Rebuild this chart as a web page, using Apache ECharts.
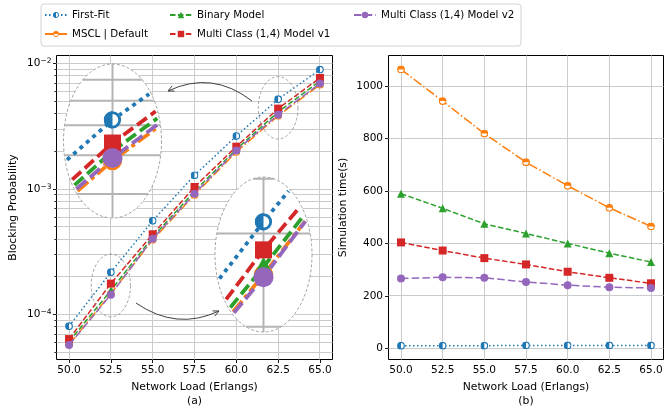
<!DOCTYPE html>
<html><head><meta charset="utf-8">
<script src="https://cdn.jsdelivr.net/npm/echarts@6/dist/echarts.min.js"></script>
<style>html,body{margin:0;padding:0;background:#fff}#c{width:665px;height:411px}</style>
</head><body><div id="c"></div>
<script>
// ---------------- data ----------------
const loads = [50, 52.5, 55, 57.5, 60, 62.5, 65];
const xTickLabels = ['50.0', '52.5', '55.0', '57.5', '60.0', '62.5', '65.0'];
const seriesNames = ['First-Fit', 'MSCL | Default', 'Binary Model', 'Multi Class (1,4) Model v1', 'Multi Class (1,4) Model v2'];
const bpFirstFit = [8.1e-5, 2.18e-4, 5.6e-4, 1.29e-3, 2.65e-3, 5.2e-3, 8.96e-3];
const bpMscl     = [5.8e-5, 1.47e-4, 3.95e-4, 9.0e-4, 1.98e-3, 3.84e-3, 6.8e-3];
const bpBinary   = [6.1e-5, 1.56e-4, 4.15e-4, 9.6e-4, 2.08e-3, 4.12e-3, 7.25e-3];
const bpV1       = [6.4e-5, 1.77e-4, 4.37e-4, 1.04e-3, 2.18e-3, 4.38e-3, 7.69e-3];
const bpV2       = [5.73e-5, 1.445e-4, 4.03e-4, 9.18e-4, 2.03e-3, 3.92e-3, 6.93e-3];
const timeFirstFit = [10, 10, 10, 11, 11, 11, 11];
const timeMscl     = [1064, 943, 819, 710, 620, 536, 465];
const timeBinary   = [590, 534, 475, 438, 400, 363, 329];
const timeV1       = [404, 373, 344, 320, 292, 269, 248];
const timeV2       = [266, 271, 269, 253, 241, 233, 230];
const bpMajorTicks = [1e-4, 1e-3, 1e-2];
const bpMinorTicks = [5e-5, 6e-5, 7e-5, 8e-5, 9e-5,
  2e-4, 3e-4, 4e-4, 5e-4, 6e-4, 7e-4, 8e-4, 9e-4,
  2e-3, 3e-3, 4e-3, 5e-3, 6e-3, 7e-3, 8e-3, 9e-3];
const timeTicks = [0, 200, 400, 600, 800, 1000];

const bpData = [bpFirstFit, bpMscl, bpBinary, bpV1, bpV2];
const timeData = [timeFirstFit, timeMscl, timeBinary, timeV1, timeV2];

// ---------------- styles / layout ----------------
const FONT = 'DejaVu Sans';
const TXT = '#000';
const GRID_COLOR = '#cbcbcb';
const COLORS = ['#1f77b4', '#ff7f0e', '#2ca02c', '#d62728', '#9467bd'];
const DASH = [[1.5, 2.5], [9.6, 2.4, 1.5, 2.4], [5.5, 2.4], [5.5, 2.4], [7.5, 3.2]];
const INSET_DASH = [[4, 4.5], [14, 4, 4, 4], [12, 5], [12, 5], [13, 5]];
const X_MIN = 49.25, X_MAX = 65.75;
const BP_MIN = 4.4e-5, BP_MAX = 0.0116;
const T_MIN = -42.7, T_MAX = 1117;
const GL = {left: 56.5, top: 55.5, width: 276, height: 304};
const GR = {left: 388.5, top: 55.5, width: 275, height: 304};

function halfSvg(color, half) {
  const d = half === 'left' ? 'M10 1.5 A8.5 8.5 0 0 0 10 18.5 Z' : 'M1.5 10 A8.5 8.5 0 0 1 18.5 10 Z';
  const svg = '<svg xmlns="http://www.w3.org/2000/svg" width="20" height="20" viewBox="0 0 20 20">' +
    '<circle cx="10" cy="10" r="8.5" fill="#ffffff"/><path d="' + d + '" fill="' + color + '"/>' +
    '<circle cx="10" cy="10" r="8.2" fill="none" stroke="' + color + '" stroke-width="3"/></svg>';
  return 'image://data:image/svg+xml;charset=utf-8,' + encodeURIComponent(svg);
}
const SYMBOLS = [halfSvg(COLORS[0], 'left'), halfSvg(COLORS[1], 'top'), 'triangle', 'rect', 'circle'];
const SYM_SIZE = [8, 8, 8, 8, 8];

// inset configuration (magnified views)
const pxPerUnit = GL.width / (X_MAX - X_MIN);
const pxPerDec = GL.height / (Math.log10(BP_MAX) - Math.log10(BP_MIN));
const MAG = 2.47;
const insetsCfg = [
  {cx: 112.5, cy: 141, rx: 49, ry: 77, xc: 62.5, yc: -2.352},
  {cx: 263.5, cy: 254.5, rx: 48.5, ry: 77.5, xc: 52.5, yc: -3.767}
];
const insets = insetsCfg.map(c => {
  const xh = c.rx / (pxPerUnit * MAG), yh = c.ry / (pxPerDec * MAG);
  return Object.assign({}, c, {
    xMin: c.xc - xh, xMax: c.xc + xh,
    yMin: Math.pow(10, c.yc - yh), yMax: Math.pow(10, c.yc + yh)
  });
});

// ---------------- helpers ----------------
function clipSeg(p, q, e) {
  const dx = q[0] - p[0], dy = q[1] - p[1];
  const px = (p[0] - e.cx) / e.rx, py = (p[1] - e.cy) / e.ry, ddx = dx / e.rx, ddy = dy / e.ry;
  const A = ddx * ddx + ddy * ddy, B = 2 * (px * ddx + py * ddy), C = px * px + py * py - 1;
  const D = B * B - 4 * A * C;
  if (A === 0 || D <= 0) return null;
  const s = Math.sqrt(D);
  const t0 = Math.max((-B - s) / (2 * A), 0), t1 = Math.min((-B + s) / (2 * A), 1);
  if (t0 >= t1) return null;
  return [[p[0] + t0 * dx, p[1] + t0 * dy], [p[0] + t1 * dx, p[1] + t1 * dy]];
}
function clipPolyline(pts, e) {
  const out = [];
  for (let i = 0; i < pts.length - 1; i++) {
    const s = clipSeg(pts[i], pts[i + 1], e);
    if (s) { if (!out.length) out.push(s[0]); out.push(s[1]); }
  }
  return out;
}
function ellipsePts(e) {
  const pts = [];
  for (let i = 0; i < 160; i++) {
    const a = i / 160 * Math.PI * 2;
    pts.push([e.cx + e.rx * Math.cos(a), e.cy + e.ry * Math.sin(a)]);
  }
  return pts;
}
function halfDisk(cx, cy, r, a0) {
  const pts = [];
  for (let i = 0; i <= 40; i++) {
    const a = a0 + i / 40 * Math.PI;
    pts.push([cx + r * Math.cos(a), cy + r * Math.sin(a)]);
  }
  return pts;
}
function inside(p, e, m) {
  const a = (p[0] - e.cx) / (e.rx - m), b = (p[1] - e.cy) / (e.ry - m);
  return a * a + b * b <= 1;
}
function markerShapes(k, p) {
  const c = COLORS[k];
  if (k === 0 || k === 1) {
    const r = k === 0 ? 8.6 : 9.6;
    const a0 = k === 0 ? Math.PI / 2 : Math.PI;
    return [
      {type: 'circle', shape: {cx: p[0], cy: p[1], r: r}, style: {fill: '#fff'}},
      {type: 'polygon', shape: {points: halfDisk(p[0], p[1], r, a0)}, style: {fill: c}},
      {type: 'circle', shape: {cx: p[0], cy: p[1], r: r - 1.4}, style: {fill: 'none', stroke: c, lineWidth: 2.8}}
    ];
  }
  if (k === 2) {
    const s = 10;
    return [{type: 'polygon', shape: {points: [[p[0], p[1] - s], [p[0] + s, p[1] + s * 0.85], [p[0] - s, p[1] + s * 0.85]]}, style: {fill: c}}];
  }
  if (k === 3) {
    const s = 8.5;
    return [{type: 'rect', shape: {x: p[0] - s, y: p[1] - s, width: 2 * s, height: 2 * s}, style: {fill: c}}];
  }
  return [{type: 'circle', shape: {cx: p[0], cy: p[1], r: 10}, style: {fill: c}}];
}

// background grid lines + minor ticks through the axes' scales
function gridSeries(ax, xVals, yVals, xr, yr, minorTicks) {
  return {
    type: 'custom', xAxisIndex: ax, yAxisIndex: ax, z: 1, silent: true,
    data: [[xr[0], yr[0]]],
    renderItem: function (params, api) {
      if (params.dataIndex) return null;
      const ch = [];
      xVals.forEach(x => {
        const a = api.coord([x, yr[0]]), b = api.coord([x, yr[1]]);
        const px = Math.round(a[0] - 0.5) + 0.5;
        ch.push({type: 'line', shape: {x1: px, y1: a[1], x2: px, y2: b[1]}, style: {stroke: GRID_COLOR, lineWidth: 1}});
      });
      yVals.forEach(y => {
        const a = api.coord([xr[0], y]), b = api.coord([xr[1], y]);
        const py = Math.round(a[1] - 0.5) + 0.5;
        ch.push({type: 'line', shape: {x1: a[0], y1: py, x2: b[0], y2: py}, style: {stroke: GRID_COLOR, lineWidth: 1}});
      });
      (minorTicks || []).forEach(y => {
        const a = api.coord([xr[0], y]);
        const py = Math.round(a[1] - 0.5) + 0.5;
        ch.push({type: 'line', shape: {x1: a[0] - 2.2, y1: py, x2: a[0], y2: py}, style: {stroke: '#000', lineWidth: 0.8}});
      });
      return {type: 'group', children: ch};
    }
  };
}

// magnified inset drawn through its own (hidden) axes, clipped to an ellipse
function insetSeries(ax, ins) {
  return {
    type: 'custom', xAxisIndex: ax, yAxisIndex: ax, z: 10, silent: true,
    data: [[ins.xc, Math.pow(10, ins.yc)]],
    renderItem: function (params, api) {
      if (params.dataIndex) return null;
      const cs = params.coordSys;
      const e = {cx: cs.x + cs.width / 2, cy: cs.y + cs.height / 2, rx: cs.width / 2, ry: cs.height / 2};
      const ch = [];
      ch.push({type: 'polygon', shape: {points: ellipsePts(e)}, style: {fill: '#fff', stroke: '#8a8a8a', lineWidth: 0.8, lineDash: [3, 2]}});
      const ticks = bpMajorTicks.concat(bpMinorTicks).filter(v => v > ins.yMin && v < ins.yMax);
      ticks.forEach(v => {
        const s = clipSeg(api.coord([ins.xMin, v]), api.coord([ins.xMax, v]), e);
        if (s) ch.push({type: 'line', shape: {x1: s[0][0], y1: s[0][1], x2: s[1][0], y2: s[1][1]}, style: {stroke: '#b4b4b4', lineWidth: 2}});
      });
      loads.filter(x => x > ins.xMin && x < ins.xMax).forEach(x => {
        const s = clipSeg(api.coord([x, ins.yMin]), api.coord([x, ins.yMax]), e);
        if (s) ch.push({type: 'line', shape: {x1: s[0][0], y1: s[0][1], x2: s[1][0], y2: s[1][1]}, style: {stroke: '#b4b4b4', lineWidth: 2}});
      });
      const eIn = {cx: e.cx, cy: e.cy, rx: e.rx - 2, ry: e.ry - 2};
      bpData.forEach((arr, k) => {
        const pts = loads.map((x, i) => api.coord([x, arr[i]]));
        const cl = clipPolyline(pts, eIn);
        if (cl.length > 1) ch.push({type: 'polyline', shape: {points: cl}, style: {fill: 'none', stroke: COLORS[k], lineWidth: 3.8, lineDash: INSET_DASH[k]}});
      });
      bpData.forEach((arr, k) => {
        loads.forEach((x, i) => {
          const p = api.coord([x, arr[i]]);
          if (inside(p, e, 8)) markerShapes(k, p).forEach(m => ch.push(m));
        });
      });
      return {type: 'group', children: ch};
    }
  };
}

// dashed source ellipses on the main axes
function sourceSeries() {
  return {
    type: 'custom', xAxisIndex: 0, yAxisIndex: 0, z: 5, silent: true,
    data: [[insets[0].xc, Math.pow(10, insets[0].yc)]],
    renderItem: function (params, api) {
      if (params.dataIndex) return null;
      const ch = insets.map(ins => {
        const a = api.coord([ins.xMin, ins.yMin]), b = api.coord([ins.xMax, ins.yMax]);
        const e = {cx: (a[0] + b[0]) / 2, cy: (a[1] + b[1]) / 2, rx: Math.abs(b[0] - a[0]) / 2, ry: Math.abs(b[1] - a[1]) / 2};
        return {type: 'polygon', shape: {points: ellipsePts(e)}, style: {fill: 'none', stroke: '#8a8a8a', lineWidth: 0.8, lineDash: [3, 2]}};
      });
      return {type: 'group', children: ch};
    }
  };
}

function arrow(p0, c, p2) {
  const dx = p2[0] - c[0], dy = p2[1] - c[1], L = Math.hypot(dx, dy);
  const ux = -dx / L, uy = -dy / L, hl = 6.5, ang = 0.45;
  const h1 = [p2[0] + hl * (ux * Math.cos(ang) - uy * Math.sin(ang)), p2[1] + hl * (ux * Math.sin(ang) + uy * Math.cos(ang))];
  const h2 = [p2[0] + hl * (ux * Math.cos(-ang) - uy * Math.sin(-ang)), p2[1] + hl * (ux * Math.sin(-ang) + uy * Math.cos(-ang))];
  return [
    {type: 'bezierCurve', z: 20, shape: {x1: p0[0], y1: p0[1], x2: p2[0], y2: p2[1], cpx1: c[0], cpy1: c[1]}, style: {stroke: '#404040', lineWidth: 1, fill: null}},
    {type: 'polyline', z: 20, shape: {points: [h1, p2, h2]}, style: {stroke: '#404040', lineWidth: 1, fill: null}}
  ];
}

// ---------------- option ----------------
const axisLabelStyle = {color: TXT, fontFamily: FONT, fontSize: 10.5};
const nameStyle = {color: TXT, fontFamily: FONT, fontSize: 10.8};
const series = [];
series.push(gridSeries(0, loads, bpMajorTicks.concat(bpMinorTicks), [X_MIN, X_MAX], [BP_MIN, BP_MAX], bpMinorTicks));
series.push(gridSeries(1, loads, timeTicks, [X_MIN, X_MAX], [T_MIN, T_MAX], null));
seriesNames.forEach((name, k) => {
  [0, 1].forEach(ax => {
    const arr = ax === 0 ? bpData[k] : timeData[k];
    series.push({
      type: 'line', name: name, xAxisIndex: ax, yAxisIndex: ax, z: 3 + k * 0.1,
      data: loads.map((x, i) => [x, arr[i]]),
      symbol: SYMBOLS[k], symbolSize: SYM_SIZE[k], showSymbol: true, showAllSymbol: true,
      lineStyle: {color: COLORS[k], width: 1.5, type: DASH[k]},
      itemStyle: {color: COLORS[k], borderWidth: 0},
      emphasis: {disabled: true}, silent: true
    });
  });
});
series.push(sourceSeries());
series.push(insetSeries(2, insets[0]));
series.push(insetSeries(3, insets[1]));

const legendBase = {
  orient: 'vertical', top: 8.5, itemWidth: 22, itemHeight: 8, itemGap: 6, padding: 0, z: 10,
  selectedMode: false, textStyle: {fontFamily: FONT, fontSize: 10.3, color: TXT, lineHeight: 13}
};
const option = {
  animation: false,
  backgroundColor: '#fff',
  grid: [
    Object.assign({show: true, borderColor: '#000', borderWidth: 1, backgroundColor: 'transparent', containLabel: false, outerBoundsMode: 'none'}, GL),
    Object.assign({show: true, borderColor: '#000', borderWidth: 1, backgroundColor: 'transparent', containLabel: false, outerBoundsMode: 'none'}, GR),
    {left: insets[0].cx - insets[0].rx, top: insets[0].cy - insets[0].ry, width: insets[0].rx * 2, height: insets[0].ry * 2, show: false, outerBoundsMode: 'none'},
    {left: insets[1].cx - insets[1].rx, top: insets[1].cy - insets[1].ry, width: insets[1].rx * 2, height: insets[1].ry * 2, show: false, outerBoundsMode: 'none'}
  ],
  legend: [
    Object.assign({left: 44, data: [{name: seriesNames[0]}, {name: seriesNames[1], lineStyle: {type: 'solid'}}]}, legendBase),
    Object.assign({left: 169, data: [{name: seriesNames[2]}, {name: seriesNames[3]}]}, legendBase),
    Object.assign({left: 353, data: [{name: seriesNames[4]}]}, legendBase)
  ],
  xAxis: [0, 1].map(g => ({
    type: 'value', gridIndex: g, min: X_MIN, max: X_MAX,
    name: 'Network Load (Erlangs)', nameLocation: 'middle', nameGap: 22, nameTextStyle: nameStyle,
    axisLine: {show: false},
    axisTick: {show: true, customValues: loads, length: 3.5, lineStyle: {color: '#000', width: 0.9}},
    axisLabel: Object.assign({customValues: loads, margin: 5.5, formatter: v => xTickLabels[loads.indexOf(v)] ?? v.toFixed(1)}, axisLabelStyle),
    splitLine: {show: false}
  })).concat([2, 3].map(g => ({
    type: 'value', gridIndex: g, min: insets[g - 2].xMin, max: insets[g - 2].xMax, show: false
  }))),
  yAxis: [
    {
      type: 'log', gridIndex: 0, logBase: 10, min: BP_MIN, max: BP_MAX,
      name: 'Blocking Probability', nameLocation: 'middle', nameGap: 38, nameTextStyle: nameStyle,
      axisLine: {show: false},
      axisTick: {show: true, customValues: bpMajorTicks, length: 3.5, lineStyle: {color: '#000', width: 0.9}},
      axisLabel: {
        customValues: bpMajorTicks, margin: 5,
        formatter: v => '{b|10}{s|\u2212' + Math.round(-Math.log10(v)) + '}',
        rich: {
          b: {fontFamily: FONT, fontSize: 10.5, color: TXT, lineHeight: 13},
          s: {fontFamily: FONT, fontSize: 7.5, color: TXT, verticalAlign: 'top', lineHeight: 9}
        }
      },
      splitLine: {show: false}
    },
    {
      type: 'value', gridIndex: 1, min: T_MIN, max: T_MAX,
      name: 'Simulation time(s)', nameLocation: 'middle', nameGap: 40, nameTextStyle: nameStyle,
      axisLine: {show: false},
      axisTick: {show: true, customValues: timeTicks, length: 3.5, lineStyle: {color: '#000', width: 0.9}},
      axisLabel: Object.assign({customValues: timeTicks, margin: 5.5, formatter: v => String(v)}, axisLabelStyle),
      splitLine: {show: false}
    },
    {type: 'log', logBase: 10, gridIndex: 2, min: insets[0].yMin, max: insets[0].yMax, show: false},
    {type: 'log', logBase: 10, gridIndex: 3, min: insets[1].yMin, max: insets[1].yMax, show: false}
  ],
  graphic: [
    {type: 'rect', z: 1, shape: {x: 41, y: 4, width: 480, height: 42, r: 3}, style: {fill: '#fff', stroke: '#d3d3d3', lineWidth: 1}},
    {type: 'text', z: 20, x: GL.left + GL.width / 2, y: 401.5, style: {text: '(a)', fontFamily: FONT, fontSize: 10.8, fill: TXT, align: 'center', verticalAlign: 'middle', textAlign: 'center', textVerticalAlign: 'middle'}},
    {type: 'text', z: 20, x: GR.left + GR.width / 2, y: 401.5, style: {text: '(b)', fontFamily: FONT, fontSize: 10.8, fill: TXT, align: 'center', verticalAlign: 'middle', textAlign: 'center', textVerticalAlign: 'middle'}}
  ].concat(arrow([252, 101], [212, 70], [168, 91])).concat(arrow([136, 303], [176.5, 331], [219, 311])),
  series: series
};
const chart = echarts.init(document.getElementById('c'), null, {renderer: 'canvas'});
chart.setOption(option);
</script></body></html>
